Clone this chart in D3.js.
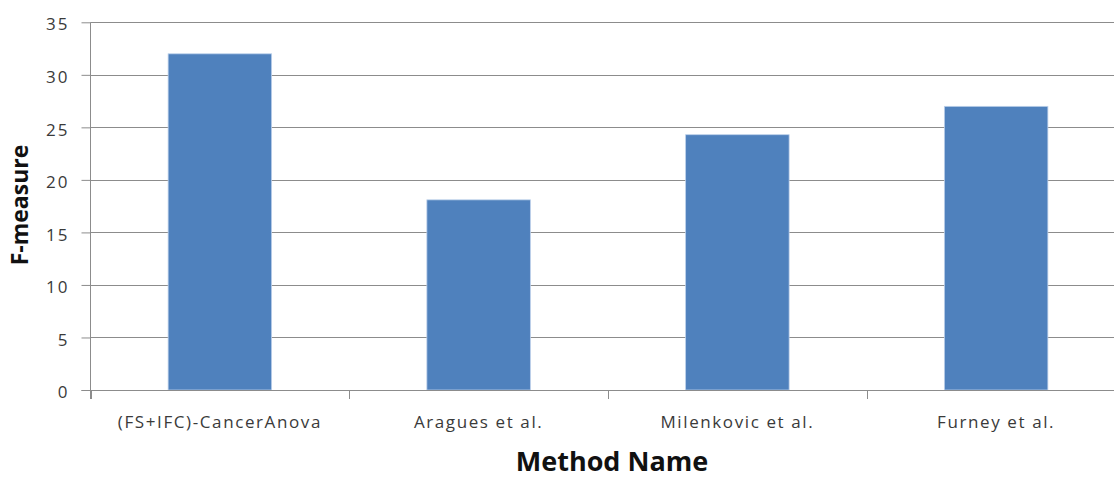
<!DOCTYPE html>
<html>
<head>
<meta charset="utf-8">
<script src="https://cdn.jsdelivr.net/npm/d3@7"></script>
<style>
  html, body { margin: 0; padding: 0; background: #fff; }
  svg { display: block; }
  text { font-family: "Open Sans", "DejaVu Sans", sans-serif; }
</style>
</head>
<body>
<svg id="chart" width="1114" height="478"></svg>
<script>
// Chart data
const methods = ["(FS+IFC)-CancerAnova", "Aragues et al.", "Milenkovic et al.", "Furney et al."];
const fMeasure = [32.0, 18.1, 24.3, 27.0];
const yTicks = [0, 5, 10, 15, 20, 25, 30, 35];

const svg = d3.select("#chart");
const plot = { left: 90.5, right: 1125.5, top: 22.3, bottom: 390 };

const x = d3.scaleBand()
  .domain(methods)
  .range([plot.left, plot.right])
  .paddingInner(0.6)
  .paddingOuter(0.3);

const y = d3.scaleLinear()
  .domain([0, 35])
  .range([plot.bottom, plot.top]);

const gridColor = "#8c8c8c";
const textColor = "#3a3a3a";

// Horizontal gridlines
svg.append("g")
  .selectAll("line")
  .data(yTicks.filter(d => d > 0))
  .join("line")
  .attr("x1", plot.left)
  .attr("x2", 1114)
  .attr("y1", d => Math.round(y(d)) + 0.5)
  .attr("y2", d => Math.round(y(d)) + 0.5)
  .attr("stroke", gridColor)
  .attr("stroke-width", 1);

// Bars
svg.append("g")
  .selectAll("rect")
  .data(methods)
  .join("rect")
  .attr("x", d => x(d))
  .attr("width", x.bandwidth())
  .attr("y", (d, i) => y(fMeasure[i]))
  .attr("height", (d, i) => plot.bottom - y(fMeasure[i]))
  .attr("fill", "#4f81bd")
  .attr("stroke", "#bcd0ea")
  .attr("stroke-width", 0.8);

// Y axis
const yAxis = d3.axisLeft(y)
  .tickValues(yTicks)
  .tickSize(9)
  .tickPadding(12)
  .tickFormat(d3.format("d"));

const gy = svg.append("g")
  .attr("transform", `translate(${plot.left},0)`)
  .call(yAxis);
gy.select(".domain").attr("stroke", gridColor).attr("d", `M-0,${plot.bottom + 9}V${plot.top}`);
gy.selectAll(".tick line").attr("stroke", gridColor);
gy.selectAll(".tick text")
  .attr("fill", textColor)
  .attr("dy", "0.45em")
  .style("font-size", "17px")
  .style("letter-spacing", "2px");

// X axis with separators between categories
const xAxis = d3.axisBottom(x).tickSize(0).tickPadding(0);
const gx = svg.append("g")
  .attr("transform", `translate(0,${plot.bottom})`)
  .call(xAxis);
gx.select(".domain").attr("stroke", gridColor).attr("d", `M${plot.left - 9},0.5H1114`);
gx.selectAll(".tick text")
  .attr("fill", textColor)
  .attr("y", 38.3)
  .attr("dy", null)
  .style("font-size", "17px")
  .style("letter-spacing", "1.6px");

const step = x.step();
svg.append("g")
  .selectAll("line")
  .data(d3.range(methods.length))
  .join("line")
  .attr("x1", i => Math.round(plot.left + i * step) + 0.5)
  .attr("x2", i => Math.round(plot.left + i * step) + 0.5)
  .attr("y1", plot.bottom)
  .attr("y2", plot.bottom + 9)
  .attr("stroke", gridColor);

// Axis titles
svg.append("text")
  .attr("x", 612)
  .attr("y", 471)
  .attr("text-anchor", "middle")
  .attr("fill", "#111")
  .style("font-size", "27px")
  .style("font-weight", "bold")
  .text("Method Name");

svg.append("text")
  .attr("transform", "translate(28,205) rotate(-90)")
  .attr("text-anchor", "middle")
  .attr("fill", "#111")
  .style("font-size", "23px")
  .style("font-weight", "bold")
  .text("F-measure");
</script>
</body>
</html>
